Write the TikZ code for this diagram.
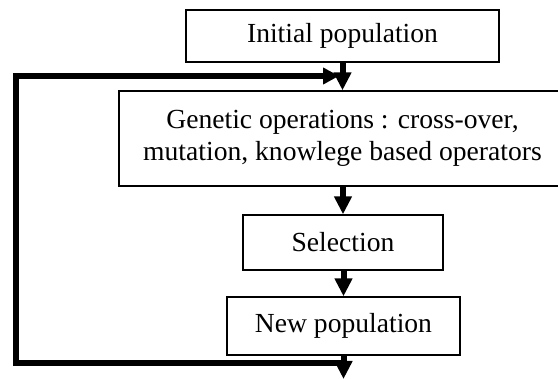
\documentclass[tikz,border=0pt]{standalone}
\usepackage{fontspec}
\setmainfont{Liberation Serif}
\usetikzlibrary{arrows.meta}
\begin{document}
\begin{tikzpicture}[x=1pt,y=-1pt,
  box/.style={draw, line width=1.4pt, inner sep=0pt, align=center,
    font=\fontsize{27.6}{32}\selectfont},
  flow/.style={line width=6pt, -{Triangle[width=17pt,length=18pt]}},
  loopline/.style={line width=6pt, line join=miter, -{Triangle[width=16pt,length=16pt]}}]
\useasboundingbox (0,0) rectangle (558,379);
\node[box, minimum width=313pt, minimum height=52pt] (init) at (342.5,36) {Initial population};
\node[box, minimum width=447pt, minimum height=95pt] (gen) at (342.5,138.5) {Genetic operations : cross-over,\\mutation, knowlege based operators};
\node[box, minimum width=200pt, minimum height=55pt] (sel) at (343,242.5) {Selection};
\node[box, minimum width=233pt, minimum height=58pt] (newp) at (343.5,326) {New population};
\coordinate (out) at (343.5,379);
\coordinate (fb) at (343.5,363);
\coordinate (bl) at (16,363);
\coordinate (tl) at (16,76);
\coordinate (tr) at (339,76);
\draw[loopline] (fb) -- (bl) -- (tl) -- (tr);
\draw[flow] (init.south -| gen.north) -- (gen.north);
\draw[flow] (gen.south -| sel.north) -- (sel.north);
\draw[flow] (sel.south -| newp.north) -- (newp.north);
\draw[flow] (newp.south) -- (out);
\end{tikzpicture}
\end{document}
